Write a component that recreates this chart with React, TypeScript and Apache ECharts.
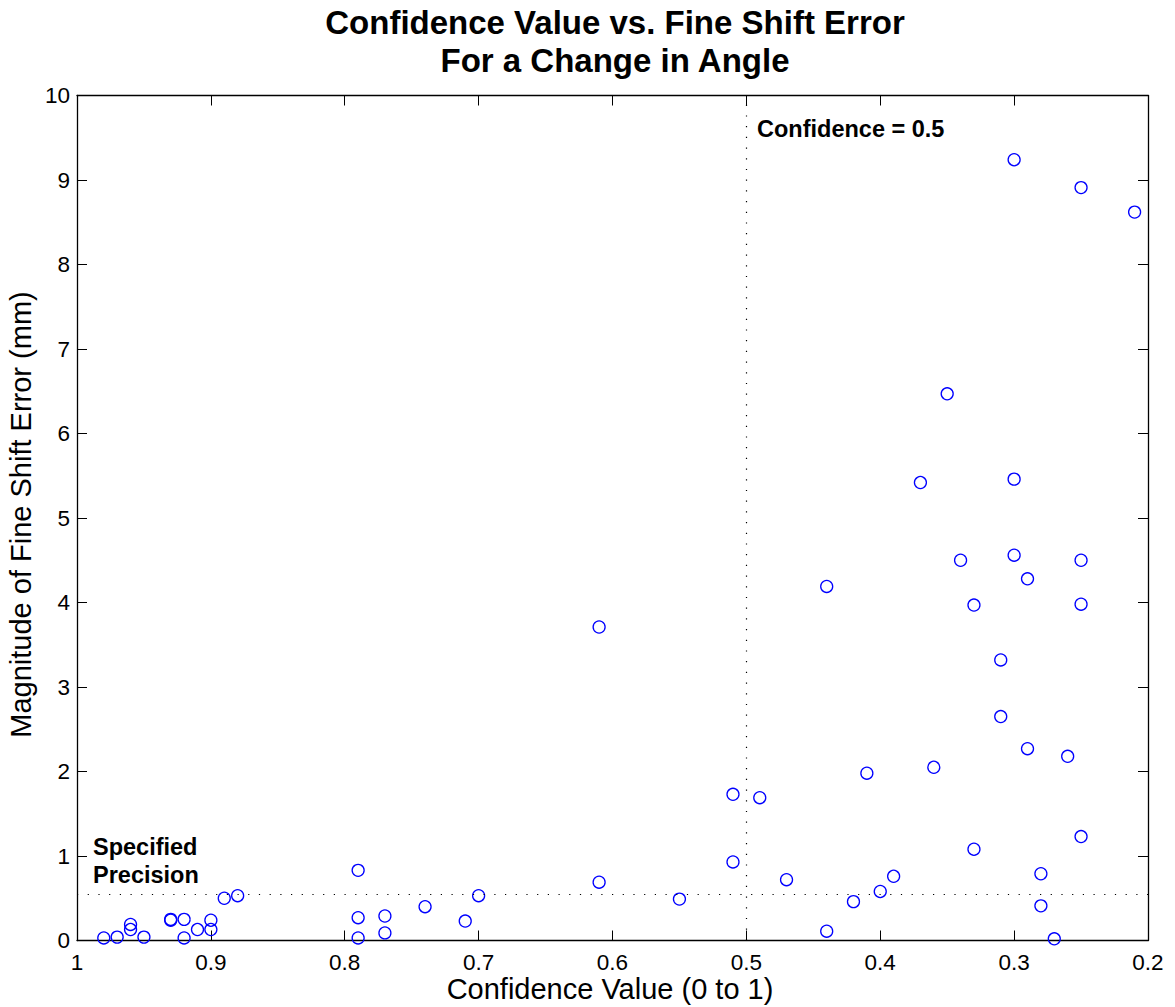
import React, { useEffect, useRef } from "react";
import * as echarts from "echarts";

const confidence = [
  0.30, 0.25, 0.21, 0.35, 0.37, 0.30, 0.34, 0.30, 0.25, 0.29,
  0.44, 0.33, 0.25, 0.31, 0.31, 0.61, 0.51, 0.49, 0.51, 0.61,
  0.55, 0.70, 0.74, 0.71, 0.77, 0.77, 0.29, 0.26, 0.36, 0.41,
  0.25, 0.33, 0.28, 0.47, 0.39, 0.40, 0.42, 0.28, 0.44, 0.27,
  0.79, 0.79, 0.79, 0.88, 0.89, 0.90, 0.90, 0.91, 0.92, 0.92,
  0.93, 0.93, 0.96, 0.96, 0.95, 0.97, 0.98,
];
const shiftError = [
  9.24, 8.91, 8.62, 6.47, 5.42, 5.46, 4.50, 4.56, 4.50, 4.28,
  4.19, 3.97, 3.98, 3.32, 2.65, 3.71, 1.73, 1.69, 0.93, 0.69,
  0.49, 0.53, 0.40, 0.23, 0.29, 0.09, 2.27, 2.18, 2.05, 1.98,
  1.23, 1.08, 0.79, 0.72, 0.76, 0.58, 0.46, 0.41, 0.11, 0.02,
  0.83, 0.27, 0.03, 0.53, 0.50, 0.24, 0.13, 0.13, 0.25, 0.03,
  0.24, 0.25, 0.19, 0.13, 0.04, 0.04, 0.03,
];

const titleLines = ["Confidence Value vs. Fine Shift Error", "For a Change in Angle"];
const xAxisName = "Confidence Value (0 to 1)";
const yAxisName = "Magnitude of Fine Shift Error (mm)";
const confidenceThreshold = 0.5;
const specifiedPrecision = 0.55;
const thresholdLabel = "Confidence = 0.5";
const precisionLabel = ["Specified", "Precision"];
const xRange = [0.2, 1];
const yRange = [0, 10];

const FONT = "'Liberation Sans', Arial, Helvetica, sans-serif";

export default function App() {
  const ref = useRef<HTMLDivElement>(null);
  useEffect(() => {
    if (!ref.current) return;
    const chart = echarts.init(ref.current, null, { renderer: "svg" });
    const lineStyle = { color: "#000", width: 1.3 };
    const fmt = (v: number) => String(Number(v.toFixed(1)));
    const xBase = {
      type: "value",
      min: xRange[0],
      max: xRange[1],
      interval: 0.1,
      inverse: true,
      splitLine: { show: false },
      axisLine: { show: true, onZero: false, lineStyle },
      axisTick: { show: true, inside: true, length: 10, lineStyle: { color: "#000", width: 1 } },
    };
    const yBase = {
      type: "value",
      min: yRange[0],
      max: yRange[1],
      interval: 1,
      splitLine: { show: false },
      axisLine: { show: true, onZero: false, lineStyle },
      axisTick: { show: true, inside: true, length: 10, lineStyle: { color: "#000", width: 1 } },
    };
    const data = confidence.map((c, i) => [c, shiftError[i]]);
    chart.setOption({
      animation: false,
      backgroundColor: "#fff",
      grid: { left: 77, right: 27, top: 95.5, bottom: 66.5, containLabel: false },
      xAxis: [
        {
          ...xBase,
          position: "bottom",
          axisLabel: { fontSize: 22.5, color: "#000", margin: 10, fontFamily: FONT, formatter: fmt },
        },
        { ...xBase, position: "top", axisLabel: { show: false } },
      ],
      yAxis: [
        {
          ...yBase,
          position: "left",
          axisLabel: { fontSize: 22.5, color: "#000", margin: 7, fontFamily: FONT, formatter: fmt },
        },
        { ...yBase, position: "right", axisLabel: { show: false } },
      ],
      series: [
        {
          type: "scatter",
          xAxisIndex: 0,
          yAxisIndex: 0,
          data,
          symbol: "circle",
          symbolSize: 12,
          itemStyle: { color: "rgba(0,0,0,0)", borderColor: "#0000ff", borderWidth: 1.3, opacity: 1 },
          markLine: {
            silent: true,
            symbol: "none",
            label: { show: false },
            lineStyle: { color: "#000", width: 1.2, type: [1.2, 9.5] },
            data: [
              [
                { coord: [xRange[1], specifiedPrecision] },
                { coord: [xRange[0], specifiedPrecision] },
              ],
              [
                { coord: [confidenceThreshold, yRange[0]] },
                { coord: [confidenceThreshold, yRange[1]] },
              ],
            ],
          },
        },
      ],
      graphic: [
        {
          type: "text",
          x: 615,
          y: 22,
          style: { text: titleLines[0], font: `bold 33px ${FONT}`, fill: "#000", align: "center", verticalAlign: "middle" },
        },
        {
          type: "text",
          x: 615,
          y: 60,
          style: { text: titleLines[1], font: `bold 33px ${FONT}`, fill: "#000", align: "center", verticalAlign: "middle" },
        },
        {
          type: "text",
          x: 757,
          y: 129,
          style: { text: thresholdLabel, font: `bold 23.5px ${FONT}`, fill: "#000", align: "left", verticalAlign: "middle" },
        },
        {
          type: "text",
          x: 93,
          y: 847,
          style: { text: precisionLabel[0], font: `bold 23.5px ${FONT}`, fill: "#000", align: "left", verticalAlign: "middle" },
        },
        {
          type: "text",
          x: 93,
          y: 875,
          style: { text: precisionLabel[1], font: `bold 23.5px ${FONT}`, fill: "#000", align: "left", verticalAlign: "middle" },
        },
        {
          type: "text",
          x: 610,
          y: 989,
          style: { text: xAxisName, font: `29px ${FONT}`, fill: "#000", align: "center", verticalAlign: "middle" },
        },
        {
          type: "text",
          x: 21,
          y: 514.5,
          rotation: Math.PI / 2,
          style: { text: yAxisName, font: `29px ${FONT}`, fill: "#000", align: "center", verticalAlign: "middle" },
        },
      ],
    });
    return () => chart.dispose();
  }, []);
  return (
    <div
      ref={ref}
      style={{ position: "absolute", left: 0, top: 0, width: 1175, height: 1007, background: "#fff" }}
    />
  );
}
